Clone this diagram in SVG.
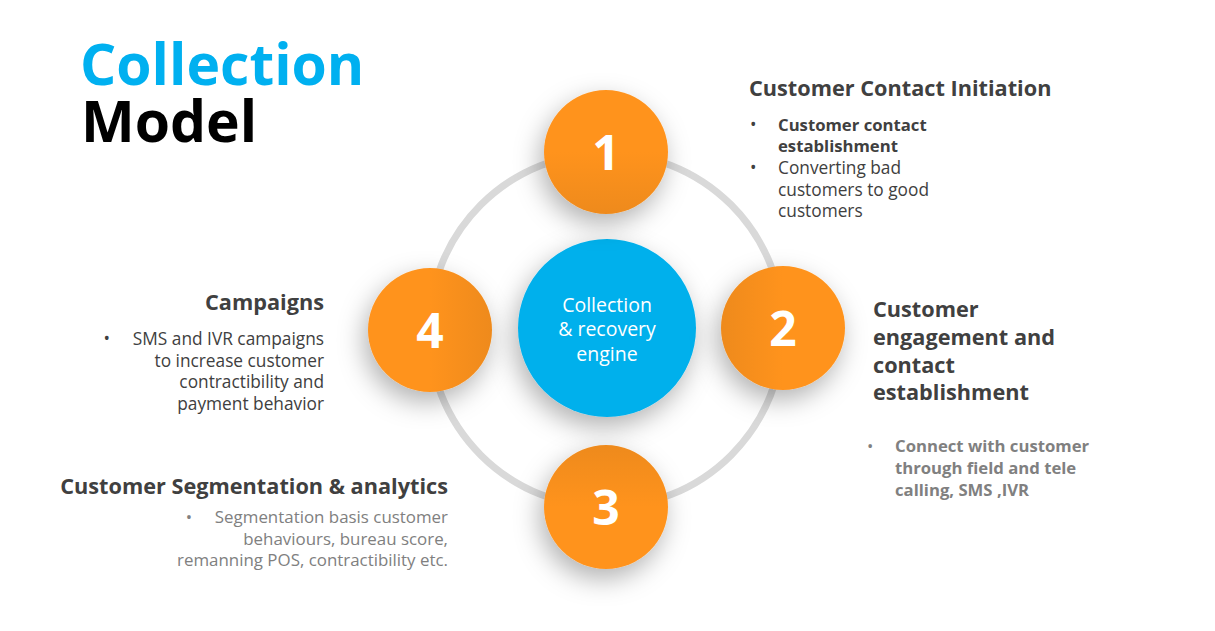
<svg xmlns="http://www.w3.org/2000/svg" width="1215" height="631" viewBox="0 0 1215 631">
<defs>
<style>
.t{font-family:"Open Sans","Noto Sans","Liberation Sans",sans-serif}
.h{font-weight:700;font-size:21.7px;fill:#404040}
.b{font-size:17.3px;fill:#404040}
.bb{font-size:16.7px;fill:#404040;font-weight:700}
.g{font-size:16.9px;fill:#808080}
.gb{font-size:16.7px;fill:#808080;font-weight:700}
.num{font-weight:700;font-size:48px;fill:#fff;text-anchor:middle}
.ctr{font-size:19.5px;fill:#fff;text-anchor:middle}
</style>
<filter id="sh" x="-60%" y="-60%" width="220%" height="220%">
<feDropShadow dx="-4" dy="10" stdDeviation="13" flood-color="#000" flood-opacity="0.3"/>
</filter>
<linearGradient id="g1" x1="0" y1="0" x2="0" y2="1"><stop offset="0.5" stop-color="#FF931E"/><stop offset="1" stop-color="#EE8A1C"/></linearGradient>
<linearGradient id="g2" x1="1" y1="0" x2="0" y2="0"><stop offset="0.5" stop-color="#FF931E"/><stop offset="1" stop-color="#EE8A1C"/></linearGradient>
<linearGradient id="g3" x1="0" y1="1" x2="0" y2="0"><stop offset="0.5" stop-color="#FF931E"/><stop offset="1" stop-color="#EE8A1C"/></linearGradient>
<linearGradient id="g4" x1="0" y1="0" x2="1" y2="0"><stop offset="0.5" stop-color="#FF931E"/><stop offset="1" stop-color="#EE8A1C"/></linearGradient>
</defs>
<rect width="1215" height="631" fill="#fff"/>
<g id="title" class="t" font-weight="700" font-size="57px">
<text x="80" y="85" fill="#00B0F0">Collection</text>
<text x="81" y="142" fill="#000">Model</text>
</g>
<g id="connectors">
<circle cx="606" cy="330" r="177" fill="none" stroke="#D9D9D9" stroke-width="7"/>
</g>
<g id="center">
<circle cx="607" cy="328" r="89" fill="#00B0EC" filter="url(#sh)"/>
<text class="t ctr" x="607" y="312">Collection</text>
<text class="t ctr" x="607" y="336">&amp; recovery</text>
<text class="t ctr" x="607" y="361">engine</text>
</g>
<g id="n1">
<circle cx="606" cy="152" r="62" fill="url(#g1)" filter="url(#sh)"/>
<text class="t num" x="606" y="170">1</text>
</g>
<g id="n2">
<circle cx="783" cy="328" r="62" fill="url(#g2)" filter="url(#sh)"/>
<text class="t num" x="783" y="346">2</text>
</g>
<g id="n3">
<circle cx="606" cy="507" r="62" fill="url(#g3)" filter="url(#sh)"/>
<text class="t num" x="606" y="525">3</text>
</g>
<g id="n4">
<circle cx="430" cy="330" r="62" fill="url(#g4)" filter="url(#sh)"/>
<text class="t num" x="430" y="348">4</text>
</g>
<g id="label1" class="t">
<text class="h" x="749" y="96">Customer Contact Initiation</text>
<text class="b" x="750" y="131">•</text>
<text class="bb" x="778" y="131">Customer contact</text>
<text class="bb" x="778" y="152">establishment</text>
<text class="b" x="750" y="174">•</text>
<text class="b" x="778" y="174">Converting bad</text>
<text class="b" x="778" y="196">customers to good</text>
<text class="b" x="778" y="217">customers</text>
</g>
<g id="label2" class="t">
<text class="h" x="873" y="317">Customer</text>
<text class="h" x="873" y="345">engagement and</text>
<text class="h" x="873" y="373">contact</text>
<text class="h" x="873" y="400">establishment</text>
<text class="g" x="867" y="452">•</text>
<text class="gb" x="895" y="452">Connect with customer</text>
<text class="gb" x="895" y="474">through field and tele</text>
<text class="gb" x="895" y="496">calling, SMS ,IVR</text>
</g>
<g id="label4" class="t" text-anchor="end">
<text class="h" x="324" y="310">Campaigns</text>
<text class="b" x="110" y="345">•</text>
<text class="b" x="324" y="345">SMS and IVR campaigns</text>
<text class="b" x="324" y="367">to increase customer</text>
<text class="b" x="324" y="388">contractibility and</text>
<text class="b" x="324" y="410">payment behavior</text>
</g>
<g id="label3" class="t" text-anchor="end">
<text class="h" x="448" y="494">Customer Segmentation &amp; analytics</text>
<text class="g" x="192" y="523">•</text>
<text class="g" x="448" y="523">Segmentation basis customer</text>
<text class="g" x="448" y="545">behaviours, bureau score,</text>
<text class="g" x="448" y="566">remanning POS, contractibility etc.</text>
</g>
</svg>
